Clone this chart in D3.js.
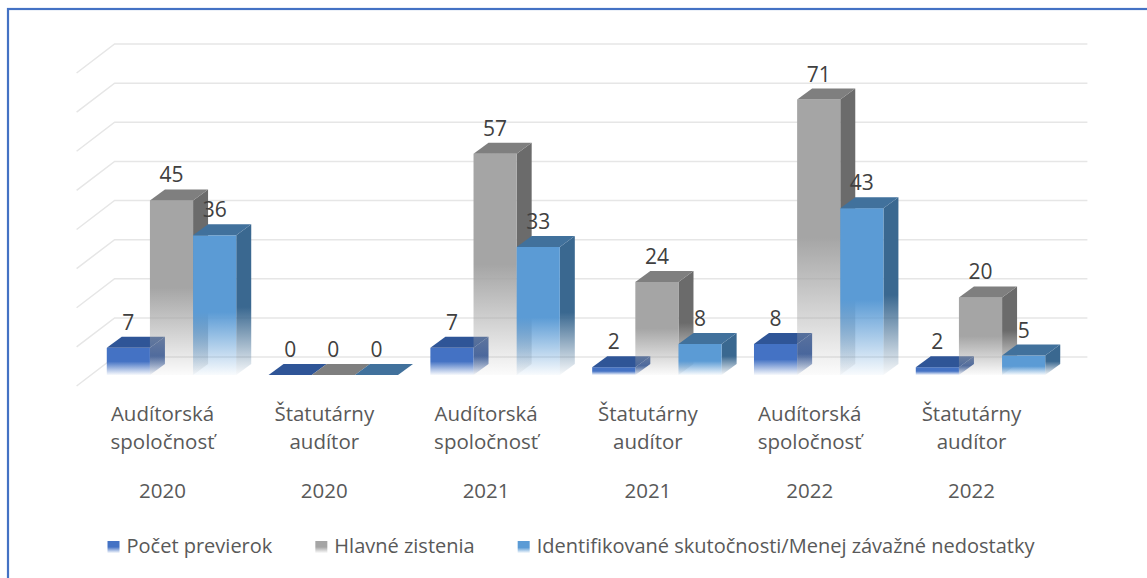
<!DOCTYPE html>
<html>
<head>
<meta charset="utf-8">
<script src="https://cdn.jsdelivr.net/npm/d3@7"></script>
<style>
  body { margin: 0; background: #fff; }
  svg { display: block; }
</style>
</head>
<body>
<div class="chart"></div>
<script>
// chart data
const categories = ["Audítorská spoločnosť|2020", "Štatutárny audítor|2020", "Audítorská spoločnosť|2021",
                    "Štatutárny audítor|2021", "Audítorská spoločnosť|2022", "Štatutárny audítor|2022"];
const pocetPreverok = [7, 0, 7, 2, 8, 2];
const hlavneZistenia = [45, 0, 57, 24, 71, 20];
const identifikovane = [36, 0, 33, 8, 43, 5];
const seriesNames = ["Počet previerok", "Hlavné zistenia", "Identifikované skutočnosti/Menej závažné nedostatky"];
const yTicks = [0, 10, 20, 30, 40, 50, 60, 70, 80];

const WIDTH = 1147, HEIGHT = 578;
const FONT = "'Open Sans', 'Noto Sans', sans-serif";
const series = [
  { name: seriesNames[0], values: pocetPreverok, front: "#4472c4", top: "#2f5597", side: "#34589a" },
  { name: seriesNames[1], values: hlavneZistenia, front: "#a5a5a5", top: "#7f7f7f", side: "#6b6b6b" },
  { name: seriesNames[2], values: identifikovane, front: "#5b9bd5", top: "#41719c", side: "#3a6890" }
];

// depth of a bar (front -> back) and of the back wall relative to bar front plane
const depth = { dx: 15, dy: -11 };
const wall = { dx: 24, dy: -18 };
const floorDepth = { dx: -38, dy: 29 };

const svg = d3.select(".chart").append("svg")
  .attr("width", WIDTH).attr("height", HEIGHT);

const defs = svg.append("defs");
series.forEach((s, i) => {
  [["f", s.front], ["s", s.side]].forEach(([k, c]) => {
    const g = defs.append("linearGradient").attr("id", "g" + k + i)
      .attr("x1", 0).attr("y1", 0).attr("x2", 0).attr("y2", 1);
    g.append("stop").attr("offset", 0).attr("stop-color", c).attr("stop-opacity", 1);
    g.append("stop").attr("offset", i === 2 ? 0.55 : 0.5).attr("stop-color", c).attr("stop-opacity", 1);
    g.append("stop").attr("offset", 1).attr("stop-color", c).attr("stop-opacity", 0.04);
  });
});

// frame
svg.append("rect")
  .attr("x", 8).attr("y", 9).attr("width", WIDTH + 20).attr("height", HEIGHT + 20)
  .attr("fill", "none").attr("stroke", "#4472c4").attr("stroke-width", 2.2);

const x = d3.scaleBand().domain(categories).range([90.6, 1061.4])
  .paddingInner(0.2).paddingOuter(0.1);
const xSub = d3.scaleBand().domain(d3.range(series.length)).range([0, x.bandwidth()]);
const y = d3.scaleLinear().domain([0, 80]).range([375, 64.6]);
const yWall = d3.scaleLinear().domain([0, 80]).range([357, 44]);

// back wall + side wall gridlines
const wallX0 = x.range()[0] + wall.dx, wallX1 = x.range()[1] + wall.dx + 2;
const grid = svg.append("g").attr("stroke", "#e6e6e6").attr("stroke-width", 1.5).attr("fill", "none");
yTicks.forEach(t => {
  const yy = yWall(t);
  grid.append("path")
    .attr("d", `M${wallX0 + floorDepth.dx},${yy + floorDepth.dy}L${wallX0},${yy}L${wallX1},${yy}`);
});

// bars
const bars = svg.append("g");
categories.forEach((c, ci) => {
  series.forEach((s, si) => {
    const v = s.values[ci];
    const x0 = x(c) + xSub(si), w = xSub.bandwidth();
    const yt = y(v), yb = y(0);
    const g = bars.append("g");
    if (v > 0) {
      g.append("path")
        .attr("d", `M${x0 + w},${yt}L${x0 + w + depth.dx},${yt + depth.dy}L${x0 + w + depth.dx},${yb + depth.dy}L${x0 + w},${yb}Z`)
        .attr("fill", `url(#gs${si})`);
      g.append("rect").attr("x", x0).attr("y", yt).attr("width", w).attr("height", yb - yt)
        .attr("fill", `url(#gf${si})`);
    }
    g.append("path")
      .attr("d", `M${x0},${yt}L${x0 + w},${yt}L${x0 + w + depth.dx},${yt + depth.dy}L${x0 + depth.dx},${yt + depth.dy}Z`)
      .attr("fill", s.top);
  });
});

// data labels
categories.forEach((c, ci) => {
  series.forEach((s, si) => {
    const v = s.values[ci];
    svg.append("text")
      .attr("x", x(c) + xSub(si) + xSub.bandwidth() / 2)
      .attr("y", y(v) - 18)
      .attr("text-anchor", "middle")
      .style("font-family", FONT)
      .style("font-size", "21px")
      .style("fill", "#404040")
      .text(v);
  });
});

// category labels
categories.forEach(c => {
  const [name, year] = c.split("|");
  const words = name.split(" ");
  const cx = x(c) + x.bandwidth() / 2 - 9;
  const t = svg.append("text")
    .attr("text-anchor", "middle")
    .style("font-family", FONT)
    .style("font-size", "20.5px")
    .style("fill", "#595959");
  t.append("tspan").attr("x", cx).attr("y", 421).text(words[0]);
  t.append("tspan").attr("x", cx).attr("y", 449).text(words[1]);
  t.append("tspan").attr("x", cx).attr("y", 498).text(year);
});

// legend
const legend = svg.append("g");
let lx = 0;
series.forEach((s, i) => {
  const item = legend.append("g").attr("transform", `translate(${lx},0)`);
  item.append("rect").attr("x", 0).attr("y", 541).attr("width", 12).attr("height", 12)
    .attr("fill", `url(#gf${i})`);
  const txt = item.append("text").attr("x", 19).attr("y", 553)
    .style("font-family", FONT)
    .style("font-size", "20px")
    .style("fill", "#595959")
    .text(s.name);
  lx += 19 + txt.node().getComputedTextLength() + 43;
});
const legendW = lx - 43;
legend.attr("transform", `translate(${571 - legendW / 2},0)`);
</script>
</body>
</html>
